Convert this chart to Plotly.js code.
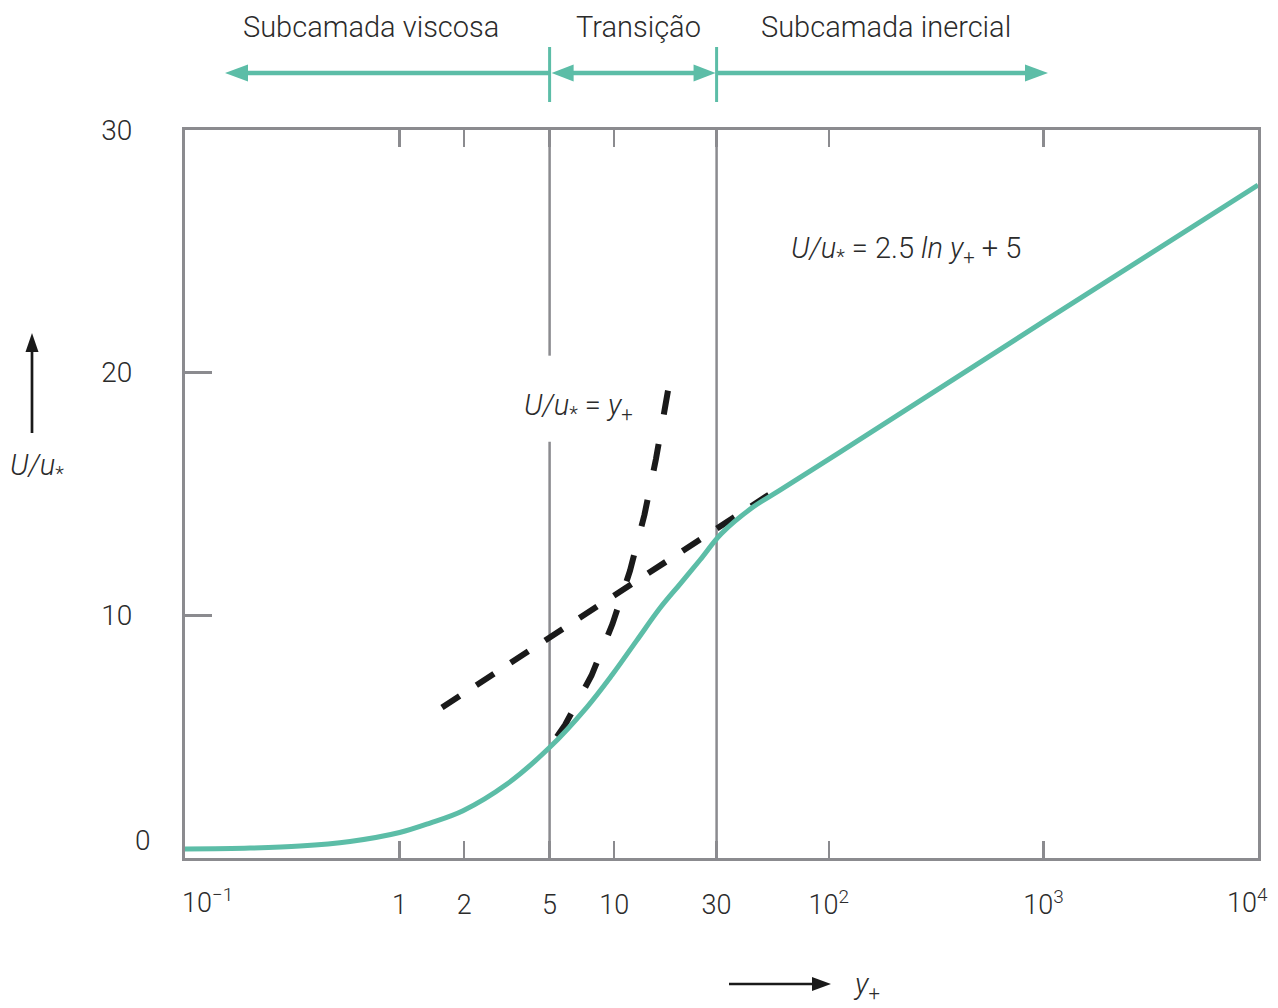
<!DOCTYPE html>
<html><head><meta charset="utf-8">
<script src="https://cdn.plot.ly/plotly-3.0.1.min.js"></script>
<style>html,body{margin:0;padding:0;background:#fff}</style>
</head><body><div id="chart" style="width:1278px;height:1008px"></div>
<script>
// ---------- data ----------
const curveX = [0.1, 0.201, 0.3435, 0.5874, 1.0, 1.386, 1.975, 3.166, 4.968, 7.469, 9.768, 12.77, 16.35, 20.26, 25.10, 31.46, 44.36, 59.25, 112.8, 1000, 10000];
const curveY = [0.37, 0.41, 0.49, 0.68, 1.05, 1.44, 1.95, 3.05, 4.53, 6.22, 7.54, 8.98, 10.3, 11.29, 12.28, 13.35, 14.46, 15.16, 16.73, 22.1, 27.73];
const viscLawX = [5.41, 5.90, 7.84, 9.82, 11.85, 13.84, 15.66, 17.52, 17.81];
const viscLawY = [5.0, 5.48, 7.52, 9.65, 11.84, 14.15, 16.45, 18.72, 19.26];
const logLawX = [1.576, 53.2];
const logLawY = [6.2, 15.0];
const regionBounds = [5, 30];
const regionLabels = ['Subcamada viscosa', 'Transição', 'Subcamada inercial'];
const xTickVals = [1, 2, 5, 10, 30, 100, 1000];
const xTickText = ['1', '2', '5', '10', '30', '10<sup>2</sup>', '10<sup>3</sup>'];
const xEdgeLabels = ['10<sup>\u22121</sup>', '10<sup>4</sup>'];
const yTickVals = [10, 20, 30];
const yTickText = ['10', '20', '30'];
const yZeroLabel = '0';
const gapAtFive = [17.15, 20.7]; // gap in the x=5 line around the label
const viscLawLabel = '<i>U/u</i><sub>*</sub> = <i>y</i><sub>+</sub>';
const logLawLabel = '<i>U/u</i><sub>*</sub> = 2.5 <i>ln y</i><sub>+</sub> + 5';
const yTitle = '<i>U/u</i><sub>*</sub>';
const xTitle = '<i>y</i><sub>+</sub>';

// ---------- layout helpers ----------
const W = 1278, H = 1008, ML = 185, MR = 20, MT = 130, MB = 150;
const PW = W - ML - MR, PH = H - MT - MB;
const fx = p => (p - ML) / PW;          // pixel x -> paper
const fy = p => (H - MB - p) / PH;      // pixel y -> paper
const dPx = v => ML + (Math.log10(v) + 1) / 5 * PW; // data x -> pixel x

const FONT = 'Roboto, sans-serif';
const FW = 300;
const TXT = '#2b2b2b';
const TEAL = '#5cbda7';
const GRAY = '#8b8b8f';
const BLACK = '#1a1a1a';

// ---------- traces ----------
const traces = [
  { x: [regionBounds[0], regionBounds[0], null, regionBounds[0], regionBounds[0], null, regionBounds[1], regionBounds[1]],
    y: [0, gapAtFive[0], null, gapAtFive[1], 30, null, 0, 30],
    mode: 'lines', line: { color: GRAY, width: 2.5 }, hoverinfo: 'skip', connectgaps: false },
  { x: logLawX, y: logLawY, mode: 'lines', line: { color: BLACK, width: 6, dash: '21px,20px' } },
  { x: viscLawX, y: viscLawY, mode: 'lines', line: { color: BLACK, width: 6, dash: '27px,30px' } },
  { x: curveX, y: curveY, mode: 'lines', line: { color: TEAL, width: 5, shape: 'spline', smoothing: 1 } }
];

// ---------- decorations (arrows) ----------
const shapes = [];
function line(x0, y0, x1, y1, color, width) {
  shapes.push({ type: 'line', xref: 'paper', yref: 'paper', x0: fx(x0), y0: fy(y0), x1: fx(x1), y1: fy(y1),
    line: { color: color, width: width } });
}
function headH(tip, y, dir, len, hw, color) { // dir: +1 points right, -1 points left
  const b = tip - dir * len;
  shapes.push({ type: 'path', xref: 'paper', yref: 'paper',
    path: `M ${fx(tip)} ${fy(y)} L ${fx(b)} ${fy(y - hw)} L ${fx(b)} ${fy(y + hw)} Z`,
    fillcolor: color, line: { width: 0 } });
}
function headV(x, tip, len, hw, color) { // points up
  const b = tip + len;
  shapes.push({ type: 'path', xref: 'paper', yref: 'paper',
    path: `M ${fx(x)} ${fy(tip)} L ${fx(x - hw)} ${fy(b)} L ${fx(x + hw)} ${fy(b)} Z`,
    fillcolor: color, line: { width: 0 } });
}
const b1 = dPx(regionBounds[0]), b2 = dPx(regionBounds[1]);
const AY = 73;
line(b1, 47, b1, 102, TEAL, 3);
line(b2, 47, b2, 102, TEAL, 3);
line(245, AY, b1, AY, TEAL, 4.5); headH(225, AY, -1, 23, 8.5, TEAL);
line(b1 + 20, AY, b2 - 20, AY, TEAL, 4.5); headH(b1 + 2, AY, -1, 22, 8.5, TEAL); headH(b2 - 1, AY, 1, 22, 8.5, TEAL);
line(b2, AY, 1028, AY, TEAL, 4.5); headH(1048, AY, 1, 23, 8.5, TEAL);
// axis direction arrows
line(32, 433, 32, 348, BLACK, 2.7); headV(32, 333, 19, 6.5, BLACK);
line(729, 984, 814, 984, BLACK, 2.7); headH(831, 984, 1, 19, 7, BLACK);

// ---------- annotations ----------
const ann = [];
function txt(text, xp, yp, size, xanchor) {
  ann.push({ text: text, xref: 'paper', yref: 'paper', x: fx(xp), y: fy(yp),
    xanchor: xanchor || 'center', yanchor: 'middle', showarrow: false,
    font: { family: FONT, size: size, color: TXT, weight: FW } });
}
txt(regionLabels[0], 371, 27, 29);
txt(regionLabels[1], 638, 27, 29);
txt(regionLabels[2], 886, 27, 29);
txt(logLawLabel, 789, 250, 29, 'left');
txt(viscLawLabel, 522, 407, 29, 'left');
txt(yTitle, 8, 467, 29, 'left');
txt(xTitle, 851, 986, 29, 'left');
txt(yZeroLabel, 143, 840, 28);
txt(xEdgeLabels[0], 207, 901, 27);
txt(xEdgeLabels[1], 1247, 901, 27);

const layout = {
  width: W, height: H,
  margin: { l: ML, r: MR, t: MT, b: MB, pad: 0 },
  paper_bgcolor: '#fff', plot_bgcolor: '#fff',
  showlegend: false,
  font: { family: FONT, color: TXT, weight: FW },
  xaxis: {
    type: 'log', range: [-1, 4], showgrid: false, zeroline: false,
    showline: true, mirror: 'ticks', linecolor: GRAY, linewidth: 3,
    ticks: 'inside', ticklen: 17, tickwidth: 2.5, tickcolor: GRAY,
    tickmode: 'array', tickvals: xTickVals, ticktext: xTickText,
    tickfont: { family: FONT, size: 27, color: TXT, weight: FW }, ticklabelstandoff: 21
  },
  yaxis: {
    range: [0, 30], showgrid: false, zeroline: false,
    showline: true, mirror: true, linecolor: GRAY, linewidth: 3,
    ticks: 'inside', ticklen: 27, tickwidth: 2.5, tickcolor: GRAY,
    tickmode: 'array', tickvals: yTickVals, ticktext: yTickText,
    tickfont: { family: FONT, size: 28, color: TXT, weight: FW }, ticklabelstandoff: 44
  },
  shapes: shapes,
  annotations: ann
};

Plotly.newPlot('chart', traces, layout, { displayModeBar: false, staticPlot: true });
</script></body></html>
